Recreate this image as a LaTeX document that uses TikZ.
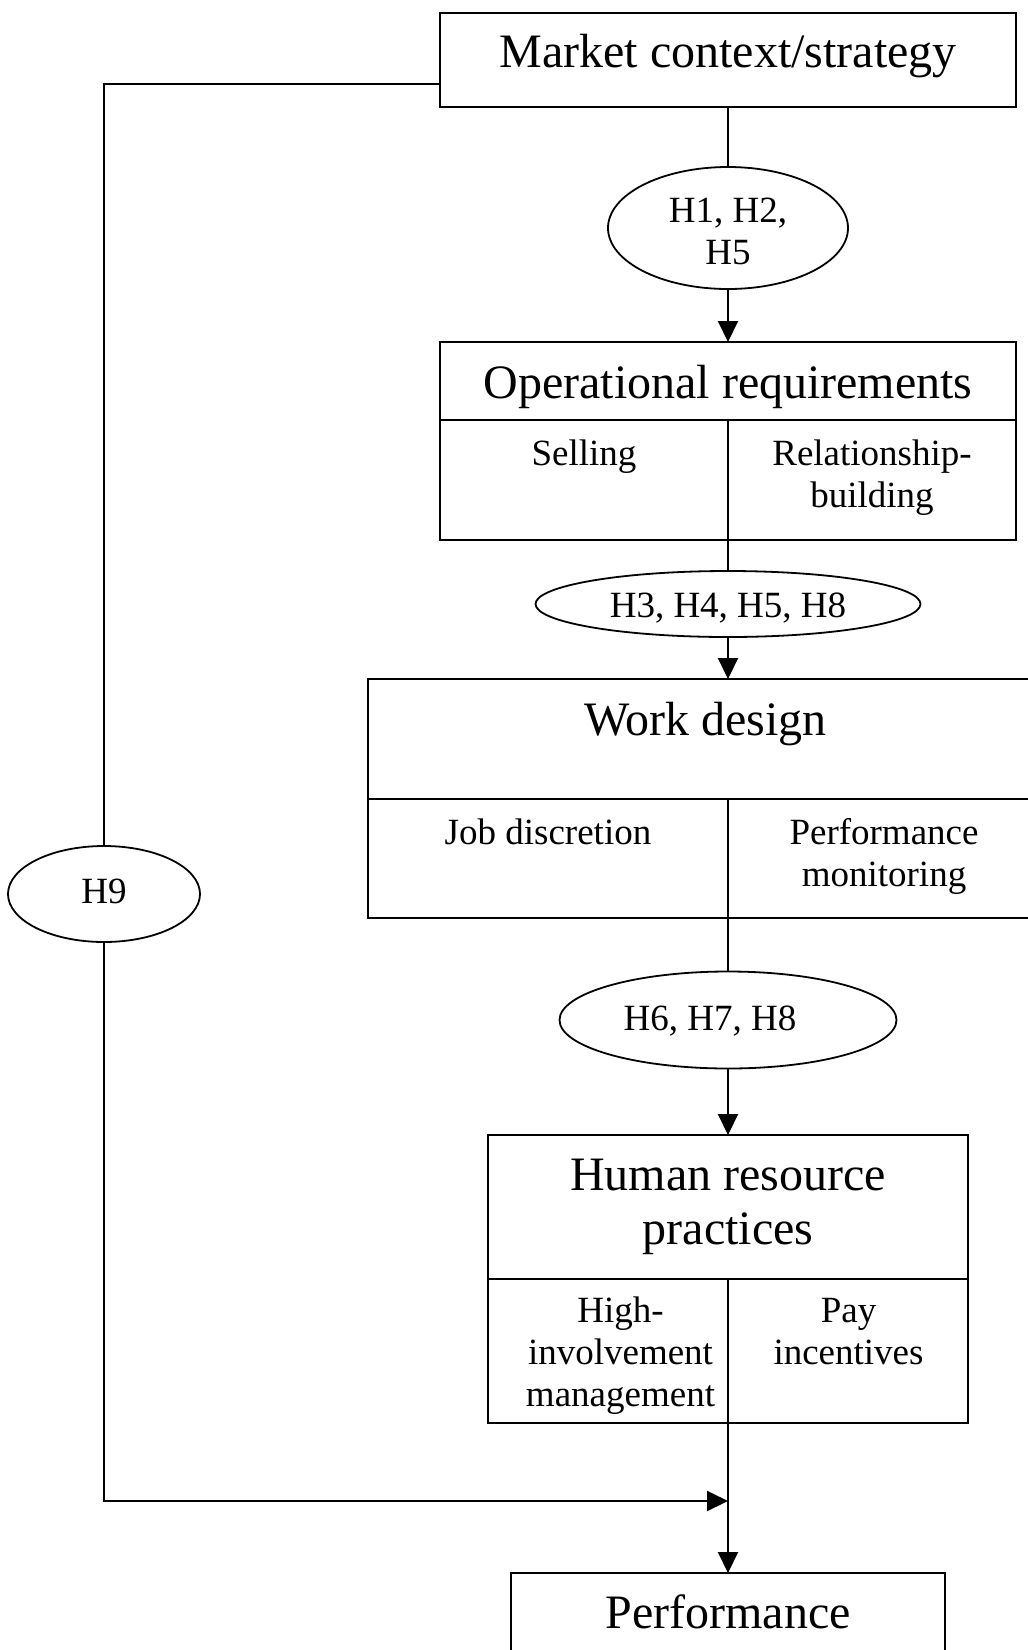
\documentclass[tikz,border=0pt]{standalone}
\usepackage{fontspec}
\setmainfont{Liberation Serif}
\usetikzlibrary{shapes.geometric,arrows.meta}
\begin{document}
\begin{tikzpicture}[x=0.5pt,y=-0.5pt,
  box/.style={draw,line width=1pt,rectangle,inner sep=0pt,outer sep=0pt},
  oval/.style={draw,line width=0.9pt,ellipse,inner sep=0pt,outer sep=0pt},
  big/.style={font=\fontsize{24}{27}\selectfont,inner sep=0pt,anchor=base,align=center},
  small/.style={font=\fontsize{18.5}{21}\selectfont,inner sep=0pt,anchor=base,align=center},
  conn/.style={line width=1pt},
  arr/.style={line width=1pt,-{Triangle[length=10.5pt,width=10pt]}}
]
\useasboundingbox (0,0) rectangle (1028,1650);
\clip (0,0) rectangle (1028,1650);
\fill[white] (0,0) rectangle (1028,1650);

% boxes
\node[box,minimum width=288pt,minimum height=47.35pt] (mkt) at (728,60) {};
\node[box,minimum width=288pt,minimum height=99pt] (op) at (728,441) {};
\draw[conn] (op.west |- 0,420) -- (op.east |- 0,420);
\draw[conn] (728,420) -- (op.south);
\node[box,minimum width=337.5pt,minimum height=119.5pt] (wd) at (705.5,798.5) {};
\draw[conn] (wd.west) -- (wd.east);
\draw[conn] (728,798.5) -- (728,918.25);
\node[box,minimum width=240pt,minimum height=144pt] (hr) at (728,1279) {};
\draw[conn] (hr.west) -- (hr.east);
\draw[conn] (hr.center) -- (hr.south);
\node[box,minimum width=217pt,minimum height=63.5pt] (perf) at (728,1636.5) {};

% ellipses
\node[oval,minimum width=120pt,minimum height=61pt] (e1) at (728,228) {};
\node[oval,minimum width=192.5pt,minimum height=33pt] (e2) at (728,604) {};
\node[oval,minimum width=168.5pt,minimum height=48.5pt] (e3) at (728,1020) {};
\node[oval,minimum width=96pt,minimum height=48pt] (e9) at (104,894) {};

% texts (anchor = baseline of the last line)
\node[big] (tmkt) at (728,67) {Market context/strategy};
\node[small] (te1) at (728,264) {H1, H2,\\H5};
\node[big] (top) at (728,398.5) {Operational requirements};
\node[small] (tsell) at (584,465.5) {Selling};
\node[small] (trel) at (872,507.5) {Relationship-\\building};
\node[small] (te2) at (728,617) {H3, H4, H5, H8};
\node[big] (twd) at (705.5,735) {Work design};
\node[small] (tjob) at (548,844) {Job discretion};
\node[small] (tpm) at (884,886) {Performance\\monitoring};
\node[small] (te3) at (710,1030) {H6, H7, H8};
\node[big] (thr) at (728,1244) {Human resource\\practices};
\node[small] (thi) at (620.5,1406) {High-\\involvement\\management};
\node[small] (tpay) at (848.5,1364) {Pay\\incentives};
\node[small] (te9) at (104,903.5) {H9};
\node[big] (tperf) at (728,1628) {Performance};

% connectors
\draw[conn] (mkt) -- (e1);
\draw[arr] (e1) -- (op);
\draw[conn] (op) -- (e2);
\draw[arr] (e2) -- (e2.south |- wd.north);
\draw[conn] (e3.north |- wd.south) -- (e3.north);
\draw[arr] (e3) -- (hr);
\draw[arr] (hr) -- (perf);
\coordinate (mktL) at (440,84);
\draw[conn] (mktL) -| (e9.north);
\coordinate (join) at (728,1501);
\draw[arr] (e9.south) |- (join);
\end{tikzpicture}
\end{document}
